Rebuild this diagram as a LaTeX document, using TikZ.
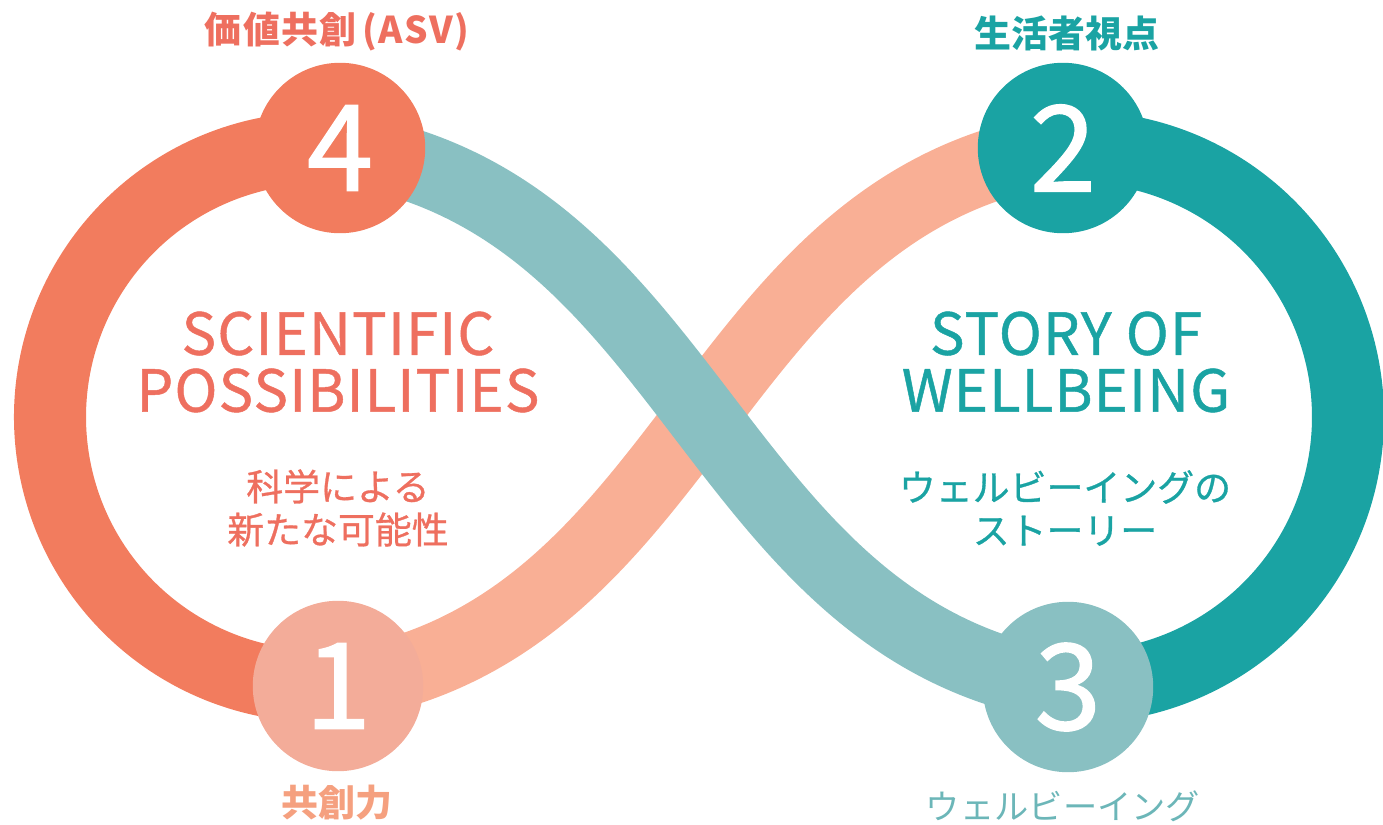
\documentclass[tikz,border=0pt]{standalone}
\usepackage{fontspec}
\setmainfont{Noto Sans CJK JP}
\usepackage{xcolor}
\usepackage{tikz}
\definecolor{shade1}{RGB}{242,124,94}
\definecolor{shade2}{RGB}{249,175,149}
\definecolor{shade3}{RGB}{243,172,153}
\definecolor{shade4}{RGB}{26,163,163}
\definecolor{shade5}{RGB}{137,192,194}
\definecolor{shade6}{RGB}{238,111,95}
\definecolor{shade7}{RGB}{245,160,127}
\definecolor{shade8}{RGB}{108,182,184}

\begin{document}
\begin{tikzpicture}[x=0.02cm, y=-0.02cm,
  band/.style={line width=41pt},
  badge/.style={circle, inner sep=0pt, minimum size=97pt, text=white,
    font=\fontsize{68}{68}\selectfont\addfontfeatures{FakeBold=1.2}},
  headline/.style={align=center,
    font=\fontsize{33}{32.4}\selectfont\addfontfeatures{FakeBold=0.8, LetterSpace=2}},
  subline/.style={align=center,
    font=\fontsize{21}{24.5}\selectfont\addfontfeatures{FakeBold=0.8}},
  caption/.style={font=\bfseries\fontsize{21}{24}\selectfont}]
\useasboundingbox (0,0) rectangle (1383,825);
\coordinate (p4) at (340,148);
\coordinate (p2) at (1063,148);
\coordinate (p1) at (338,686);
\coordinate (p3) at (1068,687);
\coordinate (cl) at (319,417);
\coordinate (cr) at (1078,417);
\draw[band, shade1] (cl) ++(80:269) arc[start angle=80, end angle=280, radius=269];
\draw[band, shade4] (cr) ++(100:270) arc[start angle=100, end angle=-100, radius=270];
\draw[band, shade2] (p1) .. controls +(357,-54) and +(-357,54) .. (p2);
\draw[band, shade5] (p4) .. controls +(357,54) and +(-357,-54) .. (p3);
\node[badge, fill=shade1] (n4) at (p4) {4};
\node[badge, fill=shade4] (n2) at (p2) {2};
\node[badge, fill=shade3] (n1) at (p1) {1};
\node[badge, fill=shade5] (n3) at (p3) {3};
\node[caption, text=shade6] (l4) at (337,32) {\addfontfeatures{CharacterWidth=Proportional, LetterSpace=4}価値共創\hspace{3pt}（ASV）};
\node[caption, text=shade4] (l2) at (1067,33) {生活者視点};
\node[caption, text=shade7] (l1) at (337,803) {共創力};
\node[subline, text=shade8, font=\fontsize{19.5}{24}\selectfont] (l3) at (1063,806) {ウェルビーイング};
\node[headline, text=shade6] (sci) at (338,362) {SCIENTIFIC\\POSSIBILITIES};
\node[subline, text=shade6] (scij) at (338,508) {科学による\\新たな可能性};
\node[headline, text=shade4] (story) at (1066,362) {STORY OF\\WELLBEING};
\node[subline, text=shade4] (storyj) at (1065,508) {ウェルビーイングの\\ストーリー};
\end{tikzpicture}
\end{document}
